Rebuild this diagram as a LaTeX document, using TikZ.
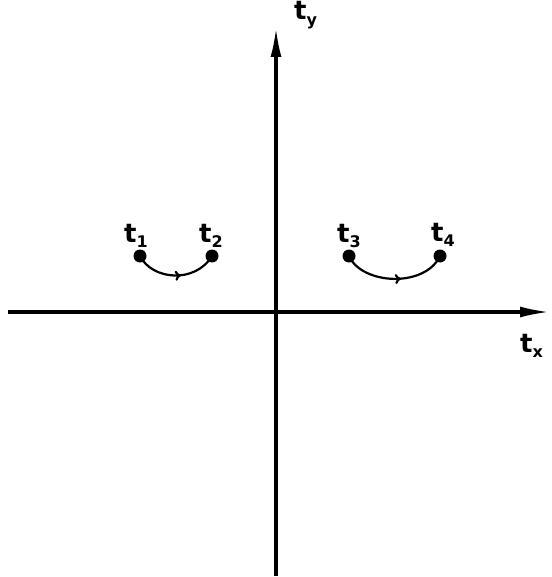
\documentclass[tikz,border=0pt]{standalone}
\usepackage{fontspec}
\setmainfont{DejaVu Sans}
\usetikzlibrary{arrows.meta,decorations.markings}
\newcommand{\sbs}[1]{\raisebox{-0.22em}{\fontsize{16}{16}\selectfont #1}}
\begin{document}
\begin{tikzpicture}[x=1pt,y=-1pt,
  axis/.style={line width=3.2pt,-{Latex[length=30pt,width=11pt]}},
  dot/.style={circle,fill=black,inner sep=0pt,minimum size=13pt},
  lbl/.style={font=\fontsize{26}{26}\selectfont\bfseries,inner sep=0pt,anchor=base west},
  flow/.style={line width=2.2pt,postaction={decorate},
    decoration={markings,mark=at position 0.56 with {\arrow{To[length=6pt,width=10pt]}}}}]
\useasboundingbox (0,0) rectangle (551,577);
\coordinate (xl) at (8,312);
\coordinate (xr) at (550,312);
\coordinate (yb) at (276,576);
\coordinate (yt) at (276,27);
\draw[axis] (xl) -- (xr);
\draw[axis] (yb) -- (yt);
\node[dot] (p1) at (140,256) {};
\node[dot] (p2) at (212,256) {};
\node[dot] (p3) at (349,256) {};
\node[dot] (p4) at (440,256) {};
\draw[flow] (p1.center) .. controls (152,280) and (195,284) .. (p2.center);
\draw[flow] (p3.center) .. controls (362,285) and (425,288) .. (p4.center);
\node[lbl] (l1) at (124,242) {t\sbs{1}};
\node[lbl] (l2) at (199,242) {t\sbs{2}};
\node[lbl] (l3) at (337,242) {t\sbs{3}};
\node[lbl] (l4) at (431,241) {t\sbs{4}};
\node[lbl] (ly) at (294,20) {t\sbs{y}};
\node[lbl] (lx) at (520,352) {t\sbs{x}};
\end{tikzpicture}
\end{document}
